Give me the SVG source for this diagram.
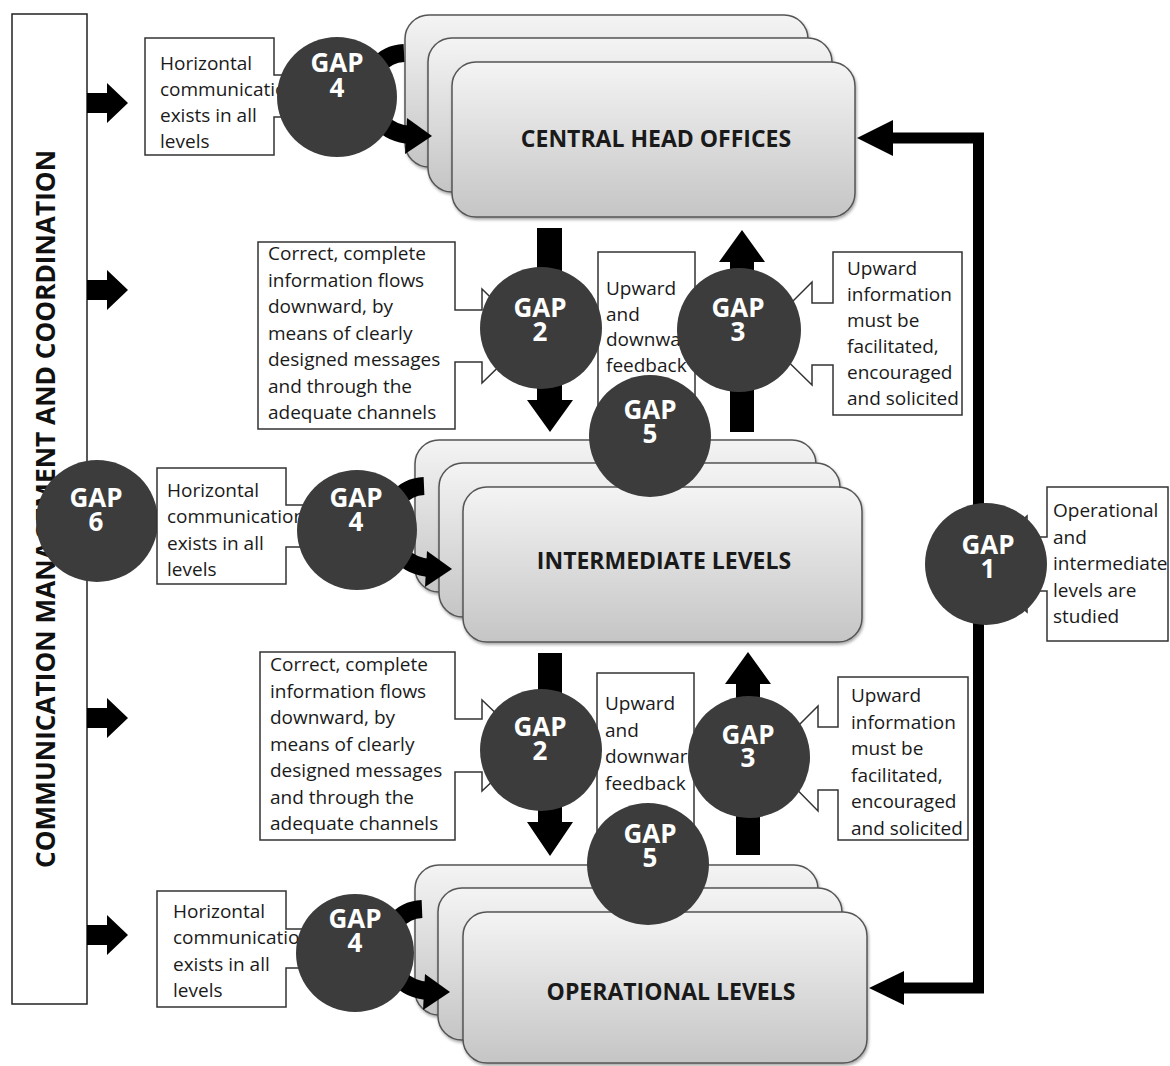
<svg xmlns="http://www.w3.org/2000/svg" width="1170" height="1066" viewBox="0 0 1170 1066">
  <style>
    .body{font-family:"Open Sans","Liberation Sans",sans-serif;font-size:19px;fill:#1a1a1a}
    .gap{font-family:"Open Sans","Liberation Sans",sans-serif;font-size:26px;font-weight:700;fill:#ffffff;text-anchor:middle}
    .lvl{font-family:"Open Sans","Liberation Sans",sans-serif;font-size:23px;font-weight:700;fill:#1a1a1a;text-anchor:middle}
    .side{font-family:"Open Sans","Liberation Sans",sans-serif;font-size:26px;font-weight:700;fill:#111111;text-anchor:middle}
    .callout{fill:#ffffff;stroke:#333333;stroke-width:1.5}
    .level{fill:url(#levelFill);stroke:#555555;stroke-width:1.5;filter:url(#soft)}
    .disc{fill:#3c3c3c}
    .blk{fill:#000000}
  </style>
  <defs>
    <linearGradient id="levelFill" x1="0" y1="0" x2="0" y2="1">
      <stop offset="0" stop-color="#f4f4f4"/>
      <stop offset="1" stop-color="#c5c5c5"/>
    </linearGradient>
    <filter id="soft" x="-5%" y="-5%" width="112%" height="115%">
      <feDropShadow dx="1" dy="2" stdDeviation="1.5" flood-color="#000" flood-opacity="0.35"/>
    </filter>
    <clipPath id="fbTop"><rect x="598" y="252" width="97" height="160"/></clipPath>
    <clipPath id="fbBot"><rect x="597" y="673" width="97" height="166"/></clipPath>
    <!-- short block arrow leaving the side panel -->
    <path id="stub" d="M0,-10H20V-20L41,0L20,20V10H0Z"/>
    <!-- curved arrow that wraps behind a GAP 4 disc -->
    <g id="swoop">
      <path d="M67,-44 C20,-42 20,35 74,38" fill="none" stroke="#000" stroke-width="18"/>
      <path d="M70,21 L95,39 L68,57 Z" fill="#000"/>
    </g>
  </defs>

  <rect width="1170" height="1066" fill="#ffffff"/>

  <!-- side panel -->
  <g id="side-panel">
    <rect x="12" y="14" width="75" height="990" fill="#ffffff" stroke="#222222" stroke-width="1.5"/>
    <text class="side" x="55" y="509" transform="rotate(-90 55 509)" textLength="718" lengthAdjust="spacingAndGlyphs">COMMUNICATION MANAGEMENT AND COORDINATION</text>
  </g>

  <!-- organisational levels -->
  <g id="central-head-offices">
    <rect class="level" x="405" y="15" width="403" height="152" rx="24"/>
    <rect class="level" x="428" y="38" width="404" height="154" rx="24"/>
    <rect class="level" x="452" y="62" width="403" height="155" rx="24"/>
    <text class="lvl" x="656" y="147">CENTRAL HEAD OFFICES</text>
  </g>
  <g id="intermediate-levels">
    <rect class="level" x="415" y="440" width="401" height="152" rx="24"/>
    <rect class="level" x="439" y="463" width="401" height="154" rx="24"/>
    <rect class="level" x="463" y="487" width="399" height="155" rx="24"/>
    <text class="lvl" x="664" y="569">INTERMEDIATE LEVELS</text>
  </g>
  <g id="operational-levels">
    <rect class="level" x="415" y="865" width="403" height="150" rx="24"/>
    <rect class="level" x="438" y="888" width="404" height="152" rx="24"/>
    <rect class="level" x="463" y="912" width="404" height="151" rx="24"/>
    <text class="lvl" x="671" y="1000">OPERATIONAL LEVELS</text>
  </g>

  <!-- connectors -->
  <g id="connectors">
    <use href="#stub" x="87" y="103"/>
    <use href="#stub" x="87" y="290"/>
    <use href="#stub" x="87" y="718"/>
    <use href="#stub" x="87" y="935"/>

    <!-- feedback loop from operational level back to head offices -->
    <path d="M903,988 H978.5 V138 H890" fill="none" stroke="#000" stroke-width="11"/>
    <polygon class="blk" points="857,138 893,120 893,156"/>
    <polygon class="blk" points="869,988 904,971 904,1005"/>

    <!-- downward / upward flows -->
    <path class="blk" d="M537,228 H562 V400 H573 L550,432 L527,400 H537 Z"/>
    <path class="blk" d="M730,432 V262 H719 L742,230 L765,262 H754 V432 Z"/>
    <path class="blk" d="M538,653 H562 V822 H573 L550,856 L527,822 H538 Z"/>
    <path class="blk" d="M736,855 V684 H725 L748,652 L771,684 H760 V855 Z"/>

    <!-- horizontal communication arrows -->
    <use href="#swoop" x="337" y="97"/>
    <use href="#swoop" x="357" y="530"/>
    <use href="#swoop" x="355" y="953"/>
  </g>

  <!-- feedback boxes -->
  <g id="feedback-top">
    <rect class="callout" x="598" y="252" width="97" height="160"/>
    <g clip-path="url(#fbTop)">
      <text class="body" x="606" y="295">Upward</text>
      <text class="body" x="606" y="321">and</text>
      <text class="body" x="606" y="346">downward</text>
      <text class="body" x="606" y="372">feedback</text>
    </g>
  </g>
  <g id="feedback-bottom">
    <rect class="callout" x="597" y="673" width="97" height="166"/>
    <g clip-path="url(#fbBot)">
      <text class="body" x="605" y="710">Upward</text>
      <text class="body" x="605" y="737">and</text>
      <text class="body" x="605" y="763">downward</text>
      <text class="body" x="605" y="790">feedback</text>
    </g>
  </g>

  <!-- GAP 4, head offices -->
  <g id="gap4-top">
    <path class="callout" d="M145,38 H274 V75 H305 V57 L340,96 L305,135 V117 H274 V155 H145 Z"/>
    <text class="body" x="160" y="70">Horizontal</text>
    <text class="body" x="160" y="96">communication</text>
    <text class="body" x="160" y="122">exists in all</text>
    <text class="body" x="160" y="148">levels</text>
    <circle class="disc" cx="337" cy="97" r="60"/>
    <text class="gap" x="337" y="72">GAP</text>
    <text class="gap" x="337" y="97">4</text>
  </g>

  <!-- GAP 2, upper -->
  <g id="gap2-top">
    <path class="callout" d="M258,242 H455 V310 H482 V289 L530,336 L482,383 V362 H455 V429 H258 Z"/>
    <text class="body" x="268" y="260">Correct, complete</text>
    <text class="body" x="268" y="286.5">information flows</text>
    <text class="body" x="268" y="313">downward, by</text>
    <text class="body" x="268" y="339.5">means of clearly</text>
    <text class="body" x="268" y="366">designed messages</text>
    <text class="body" x="268" y="392.5">and through the</text>
    <text class="body" x="268" y="419">adequate channels</text>
    <circle class="disc" cx="541" cy="328" r="61"/>
    <text class="gap" x="540" y="317">GAP</text>
    <text class="gap" x="540" y="341">2</text>
  </g>

  <!-- GAP 3, upper -->
  <g id="gap3-top">
    <path class="callout" d="M962,252 H833 V303 H812 V282 L760,334 L812,385 V365 H833 V415 H962 Z"/>
    <text class="body" x="847" y="275">Upward</text>
    <text class="body" x="847" y="301">information</text>
    <text class="body" x="847" y="327">must be</text>
    <text class="body" x="847" y="353">facilitated,</text>
    <text class="body" x="847" y="379">encouraged</text>
    <text class="body" x="847" y="405">and solicited</text>
    <circle class="disc" cx="739" cy="330" r="62"/>
    <text class="gap" x="738" y="317">GAP</text>
    <text class="gap" x="738" y="341">3</text>
  </g>

  <!-- GAP 5, upper -->
  <g id="gap5-top">
    <circle class="disc" cx="650" cy="436" r="61"/>
    <text class="gap" x="650" y="419">GAP</text>
    <text class="gap" x="650" y="443">5</text>
  </g>

  <!-- GAP 6 -->
  <g id="gap6">
    <circle class="disc" cx="97" cy="521" r="61"/>
    <text class="gap" x="96" y="507">GAP</text>
    <text class="gap" x="96" y="531">6</text>
  </g>

  <!-- GAP 4, intermediate -->
  <g id="gap4-mid">
    <path class="callout" d="M157,468 H286 V505 H320 V487 L360,526 L320,565 V547 H286 V584 H157 Z"/>
    <text class="body" x="167" y="497">Horizontal</text>
    <text class="body" x="167" y="523">communication</text>
    <text class="body" x="167" y="550">exists in all</text>
    <text class="body" x="167" y="576">levels</text>
    <circle class="disc" cx="357" cy="530" r="60"/>
    <text class="gap" x="356" y="507">GAP</text>
    <text class="gap" x="356" y="531">4</text>
  </g>

  <!-- GAP 1 -->
  <g id="gap1">
    <path class="callout" d="M1168,487 H1047 V537 H1027 V516 L975,564 L1027,612 V591 H1047 V641 H1168 Z"/>
    <text class="body" x="1053" y="517">Operational</text>
    <text class="body" x="1053" y="543.5">and</text>
    <text class="body" x="1053" y="570">intermediate</text>
    <text class="body" x="1053" y="596.5">levels are</text>
    <text class="body" x="1053" y="623">studied</text>
    <circle class="disc" cx="986" cy="564" r="61"/>
    <text class="gap" x="988" y="554">GAP</text>
    <text class="gap" x="988" y="578">1</text>
  </g>

  <!-- GAP 2, lower -->
  <g id="gap2-bottom">
    <path class="callout" d="M260,652 H455 V719 H482 V700 L530,746 L482,791 V772 H455 V840 H260 Z"/>
    <text class="body" x="270" y="671">Correct, complete</text>
    <text class="body" x="270" y="697.5">information flows</text>
    <text class="body" x="270" y="724">downward, by</text>
    <text class="body" x="270" y="750.5">means of clearly</text>
    <text class="body" x="270" y="777">designed messages</text>
    <text class="body" x="270" y="803.5">and through the</text>
    <text class="body" x="270" y="830">adequate channels</text>
    <circle class="disc" cx="541" cy="750" r="61"/>
    <text class="gap" x="540" y="736">GAP</text>
    <text class="gap" x="540" y="760">2</text>
  </g>

  <!-- GAP 3, lower -->
  <g id="gap3-bottom">
    <path class="callout" d="M968,677 H838 V727 H818 V706 L766,758 L818,811 V790 H838 V840 H968 Z"/>
    <text class="body" x="851" y="702">Upward</text>
    <text class="body" x="851" y="728.5">information</text>
    <text class="body" x="851" y="755">must be</text>
    <text class="body" x="851" y="781.5">facilitated,</text>
    <text class="body" x="851" y="808">encouraged</text>
    <text class="body" x="851" y="834.5">and solicited</text>
    <circle class="disc" cx="749" cy="757" r="61"/>
    <text class="gap" x="748" y="744">GAP</text>
    <text class="gap" x="748" y="767">3</text>
  </g>

  <!-- GAP 5, lower -->
  <g id="gap5-bottom">
    <circle class="disc" cx="648" cy="864" r="61"/>
    <text class="gap" x="650" y="843">GAP</text>
    <text class="gap" x="650" y="867">5</text>
  </g>

  <!-- GAP 4, operational -->
  <g id="gap4-bottom">
    <path class="callout" d="M157,891 H286 V929 H318 V912 L358,948 L318,985 V968 H286 V1007 H157 Z"/>
    <text class="body" x="173" y="918">Horizontal</text>
    <text class="body" x="173" y="944">communication</text>
    <text class="body" x="173" y="971">exists in all</text>
    <text class="body" x="173" y="997">levels</text>
    <circle class="disc" cx="355" cy="953" r="59"/>
    <text class="gap" x="355" y="928">GAP</text>
    <text class="gap" x="355" y="952">4</text>
  </g>
</svg>
